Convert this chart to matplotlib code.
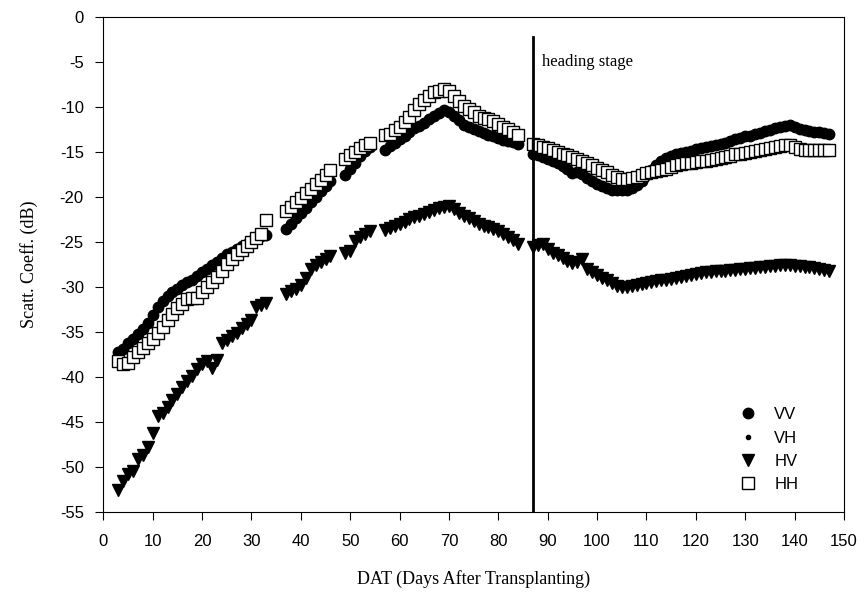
import matplotlib
matplotlib.use("Agg")
import matplotlib.pyplot as plt

plt.rcParams['axes.unicode_minus'] = False

# days after transplanting (no measurements on 34-36, 47-48, 55-56, 85-86)
days = list(range(3, 34)) + list(range(37, 47)) + list(range(49, 55)) \
    + list(range(57, 85)) + list(range(87, 148))

vv = [-37.3, -36.9, -36.3, -35.8, -35.3, -34.7, -34.0, -33.2, -32.3, -31.6,
      -31.0, -30.6, -30.2, -29.8, -29.5, -29.2, -28.8, -28.4, -28.0, -27.6,
      -27.2, -26.8, -26.4, -26.1, -25.8, -25.5, -25.2, -24.9, -24.7, -24.4,
      -24.2,
      -23.6, -23.0, -22.4, -21.8, -21.2, -20.6, -20.0, -19.4, -18.8, -18.2,
      -17.6, -16.9, -16.2, -15.5, -14.9, -14.5,
      -14.8, -14.4, -14.0, -13.6, -13.2, -12.8, -12.4, -12.1, -11.8, -11.4,
      -11.0, -10.7, -10.4, -10.6, -11.0, -11.5, -12.0, -12.3, -12.5, -12.7,
      -12.9, -13.1, -13.3, -13.5, -13.7, -13.8, -13.9, -14.1,
      -15.3, -15.4, -15.6, -15.8, -16.0, -16.3, -16.6, -16.9, -17.4, -17.3,
      -17.5, -17.9, -18.3, -18.6, -18.8, -19.0, -19.2, -19.3, -19.3, -19.2,
      -19.0, -18.7, -18.2, -17.6, -17.0, -16.5, -16.0, -15.7, -15.5, -15.3,
      -15.1, -15.0, -14.9, -14.7, -14.6, -14.5, -14.4, -14.3, -14.1, -14.0,
      -13.8, -13.6, -13.5, -13.3, -13.2, -13.0, -12.9, -12.7, -12.6, -12.4,
      -12.2, -12.1, -12.0, -12.3, -12.5, -12.6, -12.7, -12.8, -12.8, -12.9,
      -13.0]

hv = [-52.6, -51.6, -50.8, -50.5, -49.1, -48.7, -47.8, -46.3, -44.4, -44.0,
      -43.4, -42.6, -41.9, -41.1, -40.5, -39.9, -39.2, -38.6, -38.3, -39.0,
      -38.2, -36.3, -35.9, -35.5, -35.1, -34.6, -34.2, -33.7, -32.3, -32.0,
      -31.8,
      -30.8, -30.5, -30.3, -29.8, -29.0, -28.0, -27.6, -27.2, -26.9, -26.6,
      -26.3, -26.0, -24.9, -24.5, -24.1, -23.8,
      -23.7, -23.5, -23.3, -23.0, -22.8, -22.5, -22.3, -22.1, -21.9, -21.7,
      -21.5, -21.3, -21.1, -21.0, -21.4, -21.8, -22.1, -22.4, -22.7, -23.0,
      -23.2, -23.4, -23.6, -23.8, -24.1, -24.5, -24.8, -25.2,
      -25.6, -25.4, -25.2, -25.8, -26.2, -26.5, -26.8, -27.1, -27.4, -27.3,
      -26.9, -28.0, -28.4, -28.7, -29.0, -29.3, -29.6, -29.9, -30.0, -30.0,
      -29.9, -29.8, -29.7, -29.6, -29.5, -29.4, -29.3, -29.2, -29.1, -29.0,
      -28.9, -28.8, -28.7, -28.6, -28.5, -28.4, -28.4, -28.3, -28.2, -28.2,
      -28.1, -28.1, -28.0, -28.0, -27.9, -27.9, -27.8, -27.8, -27.7, -27.7,
      -27.6, -27.6, -27.6, -27.7, -27.7, -27.8, -27.8, -27.9, -28.0, -28.1,
      -28.2]

hh = [-38.3, -38.6, -38.5, -37.8, -37.3, -36.8, -36.3, -35.8, -35.2, -34.5,
      -33.7, -33.0, -32.4, -31.9, -31.4, -31.2, -31.3, -30.6, -30.0, -29.5,
      -28.9, -28.3, -27.5, -26.9, -26.4, -25.9, -25.5, -25.0, -24.6, -24.1,
      -22.6,
      -21.6, -21.1, -20.6, -20.1, -19.6, -19.1, -18.6, -18.1, -17.6, -17.0,
      -15.8, -15.4, -15.0, -14.6, -14.2, -14.0,
      -13.1, -13.0, -12.6, -12.2, -11.7, -11.1, -10.4, -9.7, -9.3, -8.8,
      -8.4, -8.2, -8.0, -8.3, -8.8, -9.4, -9.9, -10.3, -10.6, -11.0,
      -11.2, -11.4, -11.6, -11.9, -12.2, -12.5, -12.8, -13.1,
      -14.1, -14.3, -14.5, -14.6, -14.8, -15.0, -15.2, -15.4, -15.6, -15.8,
      -16.0, -16.3, -16.5, -16.8, -17.0, -17.3, -17.6, -17.8, -18.0, -18.0,
      -17.9, -17.8, -17.6, -17.4, -17.3, -17.1, -17.0, -16.9, -16.7, -16.5,
      -16.4, -16.3, -16.2, -16.1, -16.0, -16.0, -15.9, -15.8, -15.7, -15.6,
      -15.5, -15.3, -15.2, -15.1, -15.0, -14.9, -14.8, -14.7, -14.6, -14.5,
      -14.4, -14.3, -14.3, -14.5, -14.7, -14.8, -14.8, -14.8, -14.8, -14.8,
      -14.8]

vh = []  # only appears in the legend

heading_day = 87

fig = plt.figure(figsize=(8.66, 5.97), dpi=100)
ax = fig.add_axes([0.1193, 0.1429, 0.8553, 0.8291])

ax.plot(days, vv, 'o', color='black', markersize=7.5, label='VV')
ax.plot(vh, vh, 'o', color='black', markersize=3, label='VH')
ax.plot(days, hv, 'v', color='black', markersize=8.5, label='HV')
ax.plot(days, hh, 's', markerfacecolor='white', markeredgecolor='black',
        markeredgewidth=1.0, markersize=8, label='HH')

ax.plot([heading_day, heading_day], [-55, -2.3], color='black', linewidth=2)
ax.text(heading_day + 1.8, -5, 'heading stage', family='Liberation Serif',
        fontsize=12, va='center', ha='left')

ax.set_xlim(0, 150)
ax.set_ylim(-55, 0)
ax.set_xticks(range(0, 151, 10))
ax.set_yticks(range(-55, 1, 5))
ax.tick_params(direction='out', length=6, labelsize=12)
ax.tick_params(axis='x', pad=10)
ax.tick_params(axis='y', pad=8)
for lab in ax.get_xticklabels() + ax.get_yticklabels():
    lab.set_family('Liberation Sans')
ax.set_xlabel('DAT (Days After Transplanting)', family='Liberation Serif',
              fontsize=13, labelpad=15)
ax.set_ylabel('Scatt. Coeff. (dB)', family='Liberation Serif',
              fontsize=13, labelpad=16)

leg = ax.legend(loc='upper left', bbox_to_anchor=(0.836, 0.228), frameon=False,
                prop={'family': 'Liberation Sans', 'size': 12},
                handletextpad=0.6, labelspacing=0.5, borderpad=0)

fig.savefig('out.png', dpi=100)
